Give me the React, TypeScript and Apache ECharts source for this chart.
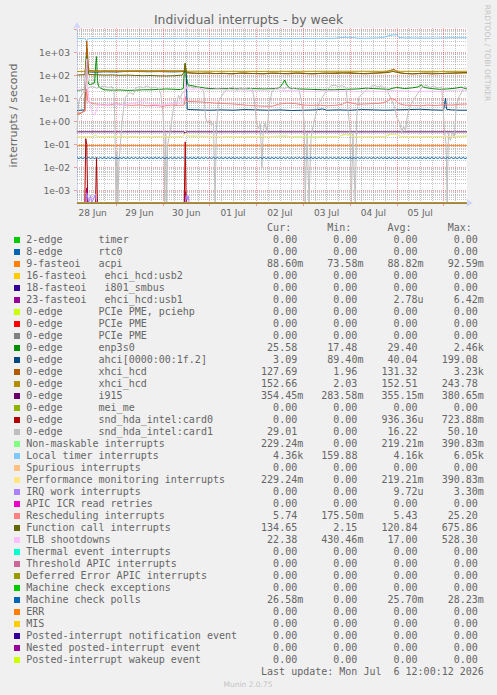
import React, { useEffect, useRef } from 'react';
import * as echarts from 'echarts';

// x values are hours since 28 Jun 00:00
const X_MIN = 4;
const X_MAX = 204;
const Y_MIN = 2.86e-4;
const Y_MAX = 1.16e4;

const dayLabels = ['28 Jun', '29 Jun', '30 Jun', '01 Jul', '02 Jul', '03 Jul', '04 Jul', '05 Jul'];
const dayNoonHours = [12, 36, 60, 84, 108, 132, 156, 180];
const midnightHours = [24, 48, 72, 96, 120, 144, 168, 192];
const sixHourMarks = [6, 12, 18, 30, 36, 42, 54, 60, 66, 78, 84, 90, 102, 108, 114, 126, 132, 138, 150, 156, 162, 174, 180, 186, 198];

const yDecadeTicks = [1e-3, 1e-2, 1e-1, 1, 10, 100, 1000, 10000];
const yLabelValues = [1e-3, 1e-2, 1e-1, 1, 10, 100, 1000];
const yTickLabels = ['1e-03', '1e-02', '1e-01', '1e+00', '1e+01', '1e+02', '1e+03'];
const yMinorTicks = [
  4e-4, 5e-4, 6e-4, 7e-4, 8e-4, 9e-4,
  2e-3, 3e-3, 4e-3, 5e-3, 6e-3, 7e-3, 8e-3, 9e-3,
  2e-2, 3e-2, 4e-2, 5e-2, 6e-2, 7e-2, 8e-2, 9e-2,
  0.2, 0.3, 0.4, 0.5, 0.6, 0.7, 0.8, 0.9,
  2, 3, 4, 5, 6, 7, 8, 9,
  20, 30, 40, 50, 60, 70, 80, 90,
  200, 300, 400, 500, 600, 700, 800, 900,
  2000, 3000, 4000, 5000, 6000, 7000, 8000, 9000,
];

const legendLabels = [
  '2-edge      timer',
  '8-edge      rtc0',
  '9-fasteoi   acpi',
  '16-fasteoi   ehci_hcd:usb2',
  '18-fasteoi   i801_smbus',
  '23-fasteoi   ehci_hcd:usb1',
  '0-edge      PCIe PME, pciehp',
  '0-edge      PCIe PME',
  '0-edge      PCIe PME',
  '0-edge      enp3s0',
  '0-edge      ahci[0000:00:1f.2]',
  '0-edge      xhci_hcd',
  '0-edge      xhci_hcd',
  '0-edge      i915',
  '0-edge      mei_me',
  '0-edge      snd_hda_intel:card0',
  '0-edge      snd_hda_intel:card1',
  'Non-maskable interrupts',
  'Local timer interrupts',
  'Spurious interrupts',
  'Performance monitoring interrupts',
  'IRQ work interrupts',
  'APIC ICR read retries',
  'Rescheduling interrupts',
  'Function call interrupts',
  'TLB shootdowns',
  'Thermal event interrupts',
  'Threshold APIC interrupts',
  'Deferred Error APIC interrupts',
  'Machine check exceptions',
  'Machine check polls',
  'ERR',
  'MIS',
  'Posted-interrupt notification event',
  'Nested posted-interrupt event',
  'Posted-interrupt wakeup event',
];

const legendColors = [
  '#00CC00', '#0066B3', '#FF8000', '#FFCC00', '#330099', '#990099', '#CCFF00', '#FF0000', '#808080',
  '#008F00', '#00487D', '#B35A00', '#B38F00', '#6B006B', '#8FB300', '#B30000', '#BEBEBE', '#80FF80',
  '#80C9FF', '#FFC080', '#FFE680', '#AA80FF', '#EE00CC', '#FF8080', '#666600', '#FFBFFF', '#00FFCC',
  '#CC6699', '#999900', '#00CC00', '#0066B3', '#FF8000', '#FFCC00', '#330099', '#990099', '#CCFF00',
];

const curValues = ['0.00', '0.00', '88.60m', '0.00', '0.00', '0.00', '0.00', '0.00', '0.00', '25.58', '3.09', '127.69', '152.66', '354.45m', '0.00', '0.00', '29.01', '229.24m', '4.36k', '0.00', '229.24m', '0.00', '0.00', '5.74', '134.65', '22.38', '0.00', '0.00', '0.00', '0.00', '26.58m', '0.00', '0.00', '0.00', '0.00', '0.00'];
const minValues = ['0.00', '0.00', '73.58m', '0.00', '0.00', '0.00', '0.00', '0.00', '0.00', '17.48', '89.40m', '1.96', '2.03', '283.58m', '0.00', '0.00', '0.00', '0.00', '159.88', '0.00', '0.00', '0.00', '0.00', '175.50m', '2.15', '430.46m', '0.00', '0.00', '0.00', '0.00', '0.00', '0.00', '0.00', '0.00', '0.00', '0.00'];
const avgValues = ['0.00', '0.00', '88.82m', '0.00', '0.00', '2.78u', '0.00', '0.00', '0.00', '29.40', '40.04', '131.32', '152.51', '355.15m', '0.00', '936.36u', '16.22', '219.21m', '4.16k', '0.00', '219.21m', '9.72u', '0.00', '5.43', '120.84', '17.00', '0.00', '0.00', '0.00', '0.00', '25.70m', '0.00', '0.00', '0.00', '0.00', '0.00'];
const maxValues = ['0.00', '0.00', '92.59m', '0.00', '0.00', '6.42m', '0.00', '0.00', '0.00', '2.46k', '199.08', '3.23k', '243.78', '380.65m', '0.00', '723.88m', '50.10', '390.83m', '6.05k', '0.00', '390.83m', '3.30m', '0.00', '25.20', '675.86', '528.30', '0.00', '0.00', '0.00', '0.00', '28.23m', '0.00', '0.00', '0.00', '0.00', '0.00'];

// [hour, value] pairs
const zeroData = [[4, 0], [204, 0]];
const acpiData = [[4, 0.0889], [204, 0.0886]];
const usb1Data = [[4, 0], [8.5, 0], [9, 0.0013], [9.5, 0], [59, 0], [59.5, 0.0009], [60, 0], [204, 0]];
const enpData = [[4, 23], [6, 23.5], [8, 24], [8.5, 300], [9, 1500], [9.5, 60], [10, 42], [11, 40], [12, 45], [13, 48], [13.5, 250], [14, 660], [14.5, 60], [15, 35], [16, 28], [18, 24], [22, 23], [26, 23.5], [30, 22.5], [34, 23], [38, 24], [42, 24], [46, 25], [50, 26], [54, 25], [57, 24.5], [58.5, 27], [59, 120], [59.5, 340], [60, 90], [61, 38], [63, 36], [66, 32], [70, 28], [76, 26], [82, 27], [88, 26], [94, 27], [100, 26], [106, 27], [108, 30], [109.5, 45], [110.5, 63], [111.5, 40], [113, 28], [118, 26], [124, 25], [130, 24], [136, 24], [142, 25], [148, 26], [152, 28], [156, 27], [160, 26], [164, 25], [166, 28], [168, 30], [172, 27], [176, 29], [179, 32], [180.5, 39], [182, 30], [186, 27], [190, 25], [194, 26], [198, 28], [201, 31], [204, 25.6]];
const ahciData = [[4, 3.0], [6, 3.1], [8, 3.2], [8.5, 150], [9, 199], [10, 142], [14, 140], [18, 145], [24, 142], [28, 148], [34, 150], [40, 146], [46, 148], [52, 144], [56, 145], [59, 150], [60, 150], [60.5, 3.4], [62, 3.3], [66, 3.2], [72, 3.1], [78, 3.2], [84, 3.1], [90, 3.3], [96, 3.2], [102, 3.1], [108, 3.2], [114, 3.0], [120, 3.1], [126, 3.2], [130, 3.5], [132, 3.1], [138, 3.2], [144, 3.1], [150, 3.3], [156, 3.2], [162, 3.1], [168, 3.2], [174, 3.3], [180, 3.4], [186, 3.2], [192, 3.1], [193, 10.5], [193.5, 3.4], [196, 3.2], [200, 3.1], [204, 3.09]];
const xhciAData = [[4, 2.0], [5, 2.1], [6, 2.3], [7, 2.6], [8, 2.9], [8.5, 40], [9, 3230], [9.5, 700], [10, 170], [12, 160], [16, 158], [20, 160], [24, 158], [30, 159], [36, 160], [42, 158], [48, 160], [54, 158], [59, 160], [59.5, 300], [60, 150], [62, 130], [66, 125], [70, 128], [74, 120], [78, 126], [82, 118], [86, 124], [90, 130], [94, 122], [98, 118], [102, 125], [106, 128], [110, 121], [114, 126], [118, 130], [122, 122], [126, 118], [130, 125], [134, 128], [138, 132], [142, 126], [146, 122], [150, 120], [154, 126], [158, 130], [162, 140], [165, 170], [166.5, 185], [168, 150], [170, 128], [174, 120], [178, 118], [182, 124], [186, 116], [190, 120], [194, 126], [198, 124], [202, 128], [204, 127.7]];
const xhciBData = [[4, 150], [8, 152], [8.5, 200], [9, 243], [9.5, 160], [10, 155], [20, 153], [40, 152], [59, 153], [59.5, 230], [60, 154], [80, 152], [100, 151], [120, 152], [140, 153], [160, 152], [166, 158], [170, 152], [190, 151], [204, 152.7]];
const i915Data = [[4, 0.355], [59, 0.356], [59.5, 0.29], [60, 0.355], [204, 0.354]];
const card0Data = [[4, 0], [8, 0], [8.5, 0.18], [9, 0.1], [9.5, 0], [13.5, 0], [14, 0.025], [14.5, 0], [59, 0], [59.5, 0.13], [60, 0], [204, 0]];
const card1Data = [[4, 0.3], [4.5, 2], [5, 8], [6, 12], [7, 17], [8, 20], [9, 22], [10, 30], [12, 33], [14, 28], [16, 32], [18, 35], [20, 30], [22, 33], [23, 20], [23.5, 0.5], [24, 0], [24.5, 0.05], [25, 0], [25.5, 0.02], [26, 0.05], [27, 0.8], [28, 4], [29, 12], [31, 18], [33, 15], [34, 28], [36, 33], [38, 30], [40, 35], [42, 28], [44, 32], [46, 25], [47, 15], [48, 3], [48.5, 0.5], [49, 0], [49.5, 0.3], [50, 0], [50.5, 0.1], [51.5, 0.26], [53, 2], [54, 8], [55, 5], [56, 14], [57, 10], [58, 18], [59, 20], [60, 30], [62, 35], [64, 28], [66, 33], [68, 25], [69, 20], [70, 1.4], [71, 0.8], [72, 1.2], [73, 0.7], [74, 0.9], [74.8, 0], [75.5, 0.5], [76.5, 7], [78, 12], [79.5, 19], [82, 28], [84, 32], [86, 22], [88, 30], [90, 26], [92, 30], [94, 25], [95, 8], [96, 0.9], [97, 0.5], [98, 0.8], [98.8, 0.0095], [99.5, 0.4], [100.5, 0.9], [101.5, 0.35], [102.5, 5], [104, 20], [106, 28], [108, 32], [110, 26], [112, 30], [114, 25], [116, 30], [118, 22], [119.5, 5], [120.5, 0.9], [121, 0], [122, 0.3], [123, 0], [124, 0.2], [125, 0.6], [126.5, 2], [128, 6], [130, 12], [132, 22], [134, 35], [136, 38], [138, 33], [140, 36], [142, 30], [143, 3], [144, 0.5], [144.7, 0], [145.5, 0.3], [146.7, 0], [147.5, 1.9], [148.5, 11], [150, 15], [152, 22], [154, 30], [156, 38], [158, 33], [160, 35], [162, 28], [163, 23], [164, 15], [165.5, 8], [167, 3.9], [168, 1.5], [169.5, 0.9], [170.5, 0.35], [171.5, 0.6], [172.5, 0.4], [173.5, 2], [175, 5], [177, 10], [179.5, 20], [181, 30], [183, 38], [185, 30], [187, 35], [189, 28], [191, 32], [191.8, 3], [192.5, 0.35], [193.3, 0.1], [193.8, 0], [194.5, 0.3], [195.5, 0.15], [196.5, 0.35], [197.5, 0.2], [198.5, 5], [200, 12], [201.5, 20], [202.5, 33], [204, 29]];
const pmiData = [[4, 0.22], [12, 0.22], [13.5, 0.25], [14.5, 0.22], [58, 0.22], [59.5, 0.3], [61, 0.23], [80, 0.22], [100, 0.22], [110, 0.23], [120, 0.21], [138, 0.22], [141, 0.27], [144, 0.26], [146, 0.22], [162, 0.22], [165, 0.28], [168, 0.27], [170, 0.22], [190, 0.22], [204, 0.23]];
const locData = [[4, 4100], [8, 4000], [9, 3300], [10, 4000], [16, 4100], [24, 4000], [32, 4100], [40, 4000], [48, 4050], [56, 4100], [64, 4050], [72, 4000], [80, 4000], [88, 3950], [96, 4000], [104, 4050], [112, 4000], [120, 4100], [128, 4000], [136, 4150], [140, 4500], [144, 4600], [148, 4200], [152, 4150], [158, 4300], [162, 4700], [164, 5400], [166, 5800], [168, 5900], [169, 4500], [172, 4300], [180, 4250], [188, 4200], [192, 4300], [198, 4400], [204, 4360]];
const iwiData = [[4, 0], [8.5, 0], [9, 0.0008], [9.5, 0.0005], [10, 0], [11, 0.0006], [11.5, 0], [13.5, 0.0007], [14, 0], [59.5, 0], [60, 0.0006], [60.5, 0.0004], [61, 0.0006], [61.5, 0], [204, 0]];
const resData = [[4, 2.3], [6, 2.4], [8, 2.8], [8.5, 6], [9, 25], [9.5, 8], [10, 7], [12, 6], [16, 5.5], [20, 5.2], [24, 5.8], [28, 5.4], [32, 5.0], [36, 5.3], [40, 4.8], [44, 5.0], [48, 4.6], [52, 5.2], [56, 5.0], [59, 5.2], [59.5, 12], [60, 7.5], [64, 7.3], [68, 7.0], [72, 6.6], [76, 6.2], [80, 6.0], [84, 5.8], [88, 5.4], [92, 5.0], [96, 4.8], [100, 4.6], [104, 4.6], [108, 5.8], [112, 6.2], [116, 6.0], [120, 5.2], [124, 5.0], [128, 5.2], [132, 4.8], [136, 5.0], [140, 5.5], [142, 7.0], [144, 6.5], [148, 5.6], [152, 5.8], [156, 6.0], [160, 6.2], [163, 7.5], [165, 10], [167, 9], [169, 6], [172, 5.2], [176, 5.0], [180, 4.8], [184, 5.2], [188, 4.9], [192, 5.4], [196, 5.2], [200, 5.6], [204, 5.74]];
const calData = [[4, 105], [8, 108], [8.5, 300], [9, 676], [9.5, 200], [10, 110], [14, 108], [18, 104], [22, 106], [26, 102], [30, 104], [34, 100], [38, 98], [42, 100], [46, 96], [50, 95], [54, 98], [58, 104], [59, 150], [59.5, 340], [60, 130], [64, 125], [68, 122], [72, 128], [76, 120], [80, 124], [84, 118], [88, 126], [92, 120], [96, 124], [100, 118], [104, 126], [108, 122], [112, 118], [116, 125], [120, 122], [124, 118], [128, 124], [132, 126], [136, 120], [140, 128], [144, 132], [148, 125], [152, 118], [156, 124], [160, 128], [164, 136], [166, 150], [168, 135], [172, 122], [176, 118], [180, 124], [184, 128], [188, 125], [192, 122], [196, 128], [200, 132], [204, 134.65]];
const tlbData = [[4, 25], [6, 24], [8, 22], [8.5, 100], [9, 528], [9.5, 30], [10, 12], [11, 4], [12, 2.2], [13, 1.9], [14, 3], [15, 5.5], [18, 5], [22, 6], [26, 5.2], [30, 5.8], [34, 6.5], [38, 8], [40, 6], [44, 5.5], [48, 5.2], [52, 6], [56, 6.5], [59, 8], [59.5, 60], [60, 28], [62, 25], [66, 26], [70, 24], [76, 25], [82, 23], [88, 24], [94, 22], [100, 23], [106, 24], [112, 22], [118, 21], [124, 20], [130, 21], [136, 20], [142, 21], [148, 20], [154, 21], [160, 20], [166, 22], [172, 21], [178, 20], [184, 21], [190, 20], [196, 22], [200, 24], [204, 22.4]];
// Machine check polls, one reading per hour from hour 4 to hour 204
const mcpValues = [
  0.0270, 0.0244, 0.0272, 0.0243, 0.0271, 0.0245, 0.0273, 0.0244, 0.0270, 0.0243, 0.0272, 0.0245, 0.0271, 0.0244, 0.0273, 0.0243, 0.0270, 0.0245, 0.0272, 0.0244,
  0.0271, 0.0243, 0.0270, 0.0245, 0.0272, 0.0244, 0.0273, 0.0243, 0.0271, 0.0245, 0.0270, 0.0244, 0.0272, 0.0243, 0.0271, 0.0245, 0.0273, 0.0244, 0.0270, 0.0243,
  0.0272, 0.0245, 0.0271, 0.0244, 0.0270, 0.0243, 0.0273, 0.0245, 0.0272, 0.0244, 0.0271, 0.0243, 0.0270, 0.0245, 0.0272, 0.0244, 0.0273, 0.0243, 0.0271, 0.0245,
  0.0270, 0.0244, 0.0272, 0.0243, 0.0271, 0.0245, 0.0273, 0.0244, 0.0270, 0.0243, 0.0272, 0.0245, 0.0271, 0.0244, 0.0270, 0.0243, 0.0273, 0.0245, 0.0272, 0.0244,
  0.0271, 0.0243, 0.0270, 0.0245, 0.0272, 0.0244, 0.0273, 0.0243, 0.0271, 0.0245, 0.0270, 0.0244, 0.0272, 0.0243, 0.0271, 0.0245, 0.0273, 0.0244, 0.0270, 0.0243,
  0.0272, 0.0245, 0.0271, 0.0244, 0.0270, 0.0243, 0.0273, 0.0245, 0.0272, 0.0244, 0.0271, 0.0243, 0.0270, 0.0245, 0.0272, 0.0244, 0.0273, 0.0243, 0.0271, 0.0245,
  0.0270, 0.0244, 0.0272, 0.0243, 0.0271, 0.0245, 0.0273, 0.0244, 0.0270, 0.0243, 0.0272, 0.0245, 0.0271, 0.0244, 0.0270, 0.0243, 0.0273, 0.0245, 0.0272, 0.0244,
  0.0271, 0.0243, 0.0270, 0.0245, 0.0272, 0.0244, 0.0273, 0.0243, 0.0271, 0.0245, 0.0270, 0.0244, 0.0272, 0.0243, 0.0271, 0.0245, 0.0273, 0.0244, 0.0270, 0.0243,
  0.0272, 0.0245, 0.0271, 0.0244, 0.0270, 0.0243, 0.0273, 0.0245, 0.0272, 0.0244, 0.0271, 0.0243, 0.0270, 0.0245, 0.0272, 0.0244, 0.0273, 0.0243, 0.0271, 0.0245,
  0.0270, 0.0244, 0.0272, 0.0243, 0.0271, 0.0245, 0.0273, 0.0244, 0.0270, 0.0243, 0.0272, 0.0245, 0.0271, 0.0244, 0.0270, 0.0243, 0.0273, 0.0245, 0.0272, 0.0244,
  0.0266,
];
const mcpData = mcpValues.map((v, i) => [X_MIN + i, v]);

const seriesData = [
  zeroData, zeroData, acpiData, zeroData, zeroData, usb1Data, zeroData, zeroData, zeroData,
  enpData, ahciData, xhciAData, xhciBData, i915Data, zeroData, card0Data, card1Data, pmiData,
  locData, zeroData, pmiData, iwiData, zeroData, resData, calData, tlbData, zeroData,
  zeroData, zeroData, zeroData, mcpData, zeroData, zeroData, zeroData, zeroData, zeroData,
];

const FONT_SANS = 'DejaVu Sans';
const FONT_MONO = 'DejaVu Sans Mono';
const TEXT_COLOR = '#666666';
const GRID_RED = 'rgba(255,0,0,0.37)';
const GRID_GRAY = 'rgba(128,128,128,0.45)';
const AXIS_COLOR = '#CFD6F8';

const LEG_X0 = 26.3;
const CHAR_W = 6.02;
const ROW_Y0 = 239.7;
const ROW_H = 12;
const FIELD_END_COLS = [46, 56, 66, 76];
const HEADER_COLS = [40, 50, 60, 70];
const HEADERS = ['Cur:', 'Min:', 'Avg:', 'Max:'];

function buildGraphics() {
  const els: any[] = [];
  els.push({
    type: 'text', x: 248.5, y: 19.5, silent: true,
    style: { text: 'Individual interrupts - by week', fontFamily: FONT_SANS, fontSize: 12.4, fill: TEXT_COLOR, align: 'center', verticalAlign: 'middle' },
  });
  els.push({
    type: 'text', x: 487, y: 53, rotation: -Math.PI / 2, silent: true,
    style: { text: 'RRDTOOL / TOBI OETIKER', fontFamily: FONT_SANS, fontSize: 7.5, fill: '#c4c4c4', align: 'center', verticalAlign: 'middle' },
  });
  HEADERS.forEach((h, j) => {
    els.push({
      type: 'text', x: LEG_X0 + HEADER_COLS[j] * CHAR_W, y: 227.7, silent: true,
      style: { text: h, fontFamily: FONT_MONO, fontSize: 10, fill: TEXT_COLOR, align: 'left', verticalAlign: 'middle' },
    });
  });
  const cols = [curValues, minValues, avgValues, maxValues];
  legendLabels.forEach((label, i) => {
    const yc = ROW_Y0 + i * ROW_H;
    els.push({
      type: 'rect', silent: true,
      shape: { x: 14, y: yc - 2.7, width: 6, height: 6 },
      style: { fill: legendColors[i] },
    });
    els.push({
      type: 'text', x: LEG_X0, y: yc, silent: true,
      style: { text: label, fontFamily: FONT_MONO, fontSize: 10, fill: TEXT_COLOR, align: 'left', verticalAlign: 'middle' },
    });
    cols.forEach((arr, j) => {
      const v = arr[i];
      const hasSuffix = /[a-z]$/i.test(v);
      const endCol = FIELD_END_COLS[j] - (hasSuffix ? 0 : 1);
      els.push({
        type: 'text', x: LEG_X0 + endCol * CHAR_W, y: yc, silent: true,
        style: { text: v, fontFamily: FONT_MONO, fontSize: 10, fill: TEXT_COLOR, align: 'right', verticalAlign: 'middle' },
      });
    });
  });
  els.push({
    type: 'text', x: LEG_X0 + 76 * CHAR_W, y: 671.5, silent: true,
    style: { text: 'Last update: Mon Jul  6 12:00:12 2026', fontFamily: FONT_MONO, fontSize: 10, fill: TEXT_COLOR, align: 'right', verticalAlign: 'middle' },
  });
  els.push({
    type: 'text', x: 248, y: 684, silent: true,
    style: { text: 'Munin 2.0.75', fontFamily: FONT_SANS, fontSize: 7.5, fill: '#c4c4c4', align: 'center', verticalAlign: 'middle' },
  });
  return els;
}

function buildOption(): any {
  const series = legendLabels.map((name, i) => ({
    type: 'line',
    name,
    // the first series sits on the minor-grid axes (same ranges) so those axes are not blank
    xAxisIndex: i === 0 ? 1 : 0,
    yAxisIndex: i === 0 ? 1 : 0,
    data: seriesData[i].map(([h, v]) => [h, v > 0 ? v : Y_MIN]),
    showSymbol: false,
    symbol: 'none',
    clip: true,
    silent: true,
    lineStyle: { color: legendColors[i], width: 1 },
    itemStyle: { color: legendColors[i] },
    emphasis: { disabled: true },
  }));

  return {
    animation: false,
    backgroundColor: '#f0f0f0',
    grid: { left: 67, top: 28, width: 400, height: 175, show: true, backgroundColor: '#ffffff', borderWidth: 0 },
    xAxis: [
      {
        type: 'value', min: X_MIN, max: X_MAX, position: 'bottom',
        axisLine: { show: true, onZero: false, lineStyle: { color: AXIS_COLOR, width: 1 }, symbol: ['none', 'arrow'], symbolSize: [6, 7], symbolOffset: [0, 6] },
        axisTick: { show: true, customValues: midnightHours, length: 3, lineStyle: { color: GRID_RED } },
        axisLabel: {
          show: true, customValues: dayNoonHours,
          formatter: (v: number) => { const k = dayNoonHours.indexOf(Math.round(v)); return k >= 0 ? dayLabels[k] : ''; },
          color: TEXT_COLOR, fontFamily: FONT_SANS, fontSize: 9, margin: 5,
        },
        splitLine: { show: true, lineStyle: { color: GRID_RED, type: [1, 1], width: 1 } },
      },
      {
        type: 'value', min: X_MIN, max: X_MAX, position: 'bottom',
        axisLine: { show: false, onZero: false },
        axisTick: { show: true, inside: true, length: 1, customValues: sixHourMarks, lineStyle: { color: GRID_GRAY } },
        axisLabel: { show: false },
        splitLine: { show: true, lineStyle: { color: GRID_GRAY, type: [1, 1], width: 1 } },
      },
    ],
    yAxis: [
      {
        type: 'log', logBase: 10, min: Y_MIN, max: Y_MAX, position: 'left',
        name: 'interrupts / second', nameLocation: 'middle', nameRotate: 90, nameGap: 58,
        nameTextStyle: { color: TEXT_COLOR, fontFamily: FONT_SANS, fontSize: 11 },
        axisLine: { show: true, lineStyle: { color: AXIS_COLOR, width: 1 }, symbol: ['none', 'arrow'], symbolSize: [6, 7], symbolOffset: [0, 6] },
        axisTick: { show: true, customValues: yDecadeTicks, length: 3, lineStyle: { color: GRID_RED } },
        axisLabel: {
          show: true, customValues: yLabelValues,
          formatter: (v: number) => {
            let best = '';
            yLabelValues.forEach((t, k) => { if (Math.abs(Math.log10(v) - Math.log10(t)) < 0.01) best = yTickLabels[k]; });
            return best;
          },
          color: TEXT_COLOR, fontFamily: FONT_SANS, fontSize: 9.2, margin: 7,
        },
        splitLine: { show: true, lineStyle: { color: GRID_RED, type: [1, 1], width: 1 } },
      },
      {
        type: 'log', logBase: 10, min: Y_MIN, max: Y_MAX, position: 'left',
        axisLine: { show: false },
        axisTick: { show: true, inside: true, length: 1, customValues: yMinorTicks, lineStyle: { color: GRID_GRAY } },
        axisLabel: { show: false },
        splitLine: { show: true, lineStyle: { color: GRID_GRAY, type: [1, 1], width: 1 } },
      },
    ],
    graphic: buildGraphics(),
    series,
  };
}

export default function App() {
  const ref = useRef<HTMLDivElement>(null);
  useEffect(() => {
    if (!ref.current) return;
    const chart = echarts.init(ref.current, undefined, { renderer: 'svg' });
    chart.setOption(buildOption());
    return () => chart.dispose();
  }, []);
  return (
    <div
      ref={ref}
      style={{ position: 'absolute', left: 0, top: 0, width: 497, height: 695, background: '#f0f0f0', whiteSpace: 'pre' }}
    />
  );
}
